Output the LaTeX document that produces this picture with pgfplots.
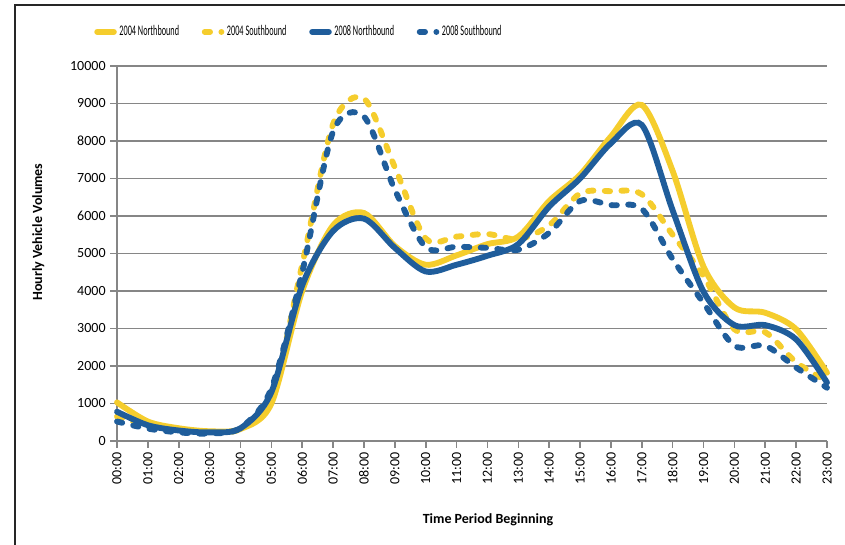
\documentclass[border=0pt]{standalone}
\usepackage{fontspec}
\setmainfont{Carlito}
\usepackage{graphicx}
\usepackage{pgfplots}
\pgfplotsset{compat=1.18}
\usepackage{pgfplotstable}

\definecolor{yel}{RGB}{245,205,45}
\definecolor{blu}{RGB}{31,93,155}
\definecolor{gridgray}{RGB}{134,134,134}

% hourly volumes
\pgfplotstableread{
hour n04  s04  n08  s08
0    1030 650  780  520
1    520  420  420  330
2    340  300  280  230
3    260  230  230  200
4    320  320  340  350
5    1000 1100 1300 1400
6    4000 4700 4150 4500
7    5750 8450 5600 8250
8    6080 9130 5930 8650
9    5200 7300 5150 6700
10   4700 5400 4520 5170
11   4950 5450 4700 5180
12   5250 5520 4940 5150
13   5450 5380 5250 5100
14   6400 5750 6250 5550
15   7100 6600 7000 6400
16   8120 6660 7940 6290
17   8960 6580 8430 6190
18   7200 5500 6150 4850
19   4650 4400 3980 3680
20   3560 2980 3090 2540
21   3420 2900 3090 2540
22   2980 2100 2710 1960
23   1820 1600 1560 1420
}\volumes

\begin{document}
\begin{tikzpicture}
\useasboundingbox (-87.75pt,-78pt) rectangle (546pt,330.75pt);
\begin{axis}[
    scale only axis,
    width=532.5pt, height=281.25pt,
    xmin=0, xmax=23, ymin=0, ymax=10000,
    clip=false,
    axis x line*=bottom, axis y line*=left,
    axis line style={gridgray, line width=1.5pt, -},
    tick style={gridgray, line width=1.2pt},
    major tick length=5pt,
    tick align=outside,
    ymajorgrids,
    grid style={gridgray, line width=1.2pt},
    xtick={0,...,23},
    xticklabels={00:00,01:00,02:00,03:00,04:00,05:00,06:00,07:00,08:00,09:00,10:00,11:00,
                 12:00,13:00,14:00,15:00,16:00,17:00,18:00,19:00,20:00,21:00,22:00,23:00},
    ytick={0,1000,...,10000},
    scaled y ticks=false,
    /pgf/number format/1000 sep={},
    /pgf/number format/assume math mode=true,
    xticklabel style={rotate=90, anchor=east, font=\fontsize{10.5}{12}\selectfont},
    yticklabel style={font=\fontsize{10.5}{12}\selectfont},
    xlabel={Time Period Beginning},
    ylabel={Hourly Vehicle Volumes},
    xlabel style={at={(axis description cs:0.5225,-0.2107)}, anchor=center,
                  font=\bfseries\fontsize{10.5}{12}\selectfont},
    ylabel style={at={(axis description cs:-0.111,0.557)}, anchor=center,
                  font=\bfseries\fontsize{10.5}{12}\selectfont},
    legend columns=4,
    legend cell align=left,
    legend style={draw=none, fill=none, at={(axis description cs:-0.0324,1.091)},
                  anchor=west, inner sep=0pt, font=\fontsize{11}{12}\selectfont,
                  /tikz/every even column/.append style={column sep=15pt}},
    legend image code/.code={\draw[#1] (0pt,0pt) -- (12.5pt,0pt);},
]
\addplot[yel, line width=4.4pt, line cap=round, smooth] table[x=hour, y=n04] {\volumes};
\addplot[yel, line width=4.4pt, line cap=round, dash pattern=on 4pt off 8.5pt, smooth] table[x=hour, y=s04] {\volumes};
\addplot[blu, line width=4.4pt, line cap=round, smooth] table[x=hour, y=n08] {\volumes};
\addplot[blu, line width=4.4pt, line cap=round, dash pattern=on 4pt off 8.5pt, smooth] table[x=hour, y=s08] {\volumes};
\legend{\scalebox{0.56}[1]{2004 Northbound},\scalebox{0.56}[1]{2004 Southbound},
        \scalebox{0.56}[1]{2008 Northbound},\scalebox{0.56}[1]{2008 Southbound}}
\end{axis}
\draw[line width=1.1pt, black!85] (-76.5pt,-78pt) -- (-76.5pt,327pt) -- (546pt,327pt);
\end{tikzpicture}
\end{document}
